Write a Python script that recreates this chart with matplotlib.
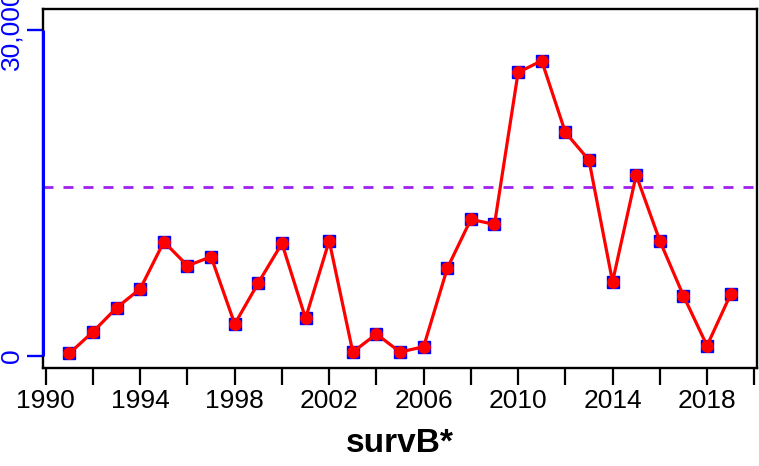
import matplotlib
matplotlib.use("Agg")
import matplotlib.pyplot as plt
import matplotlib.transforms as mtransforms
from matplotlib.ticker import FixedLocator, FuncFormatter

plt.rcParams["font.family"] = ["Liberation Sans", "DejaVu Sans"]

years = list(range(1991, 2020))
values = [220, 2210, 4420, 6170, 10500, 8290, 9120, 2920, 6720, 10350,
          3440, 10590, 340, 2000, 340, 830, 8050, 12560, 12100, 26100,
          27170, 20580, 18020, 6820, 16640, 10590, 5530, 920, 5660]
mean_line = 15570

x_ticks = list(range(1990, 2021, 2))
x_labels = [1990, 1994, 1998, 2002, 2006, 2010, 2014, 2018]
y_ticks = [0, 30000]
y_labels = ["0", "30,000"]

fig = plt.figure(figsize=(7.59, 4.66), dpi=100)
ax = fig.add_axes([0.0563, 0.2103, 0.9415, 0.7704])

ax.axhline(mean_line, color="#A020F0", lw=2, ls=(0, (3.6, 3.6)), zorder=1)
ax.plot(years, values, ls="none", marker="s", ms=8, mfc="blue", mec="blue", zorder=2)
ax.plot(years, values, color="red", lw=2.3, marker="o", ms=8.2, mfc="red", mec="red", zorder=3)

ax.set_xlim(1989.87, 2020.13)
ax.set_ylim(-1130, 31940)

for sp in ax.spines.values():
    sp.set_linewidth(1.7)
    sp.set_color("black")

# blue y axis line spanning only the labelled range
trans = mtransforms.blended_transform_factory(ax.transAxes, ax.transData)
ax.plot([0, 0], [y_ticks[0], y_ticks[-1]], color="blue", lw=2.2, transform=trans,
        clip_on=False, zorder=5, solid_capstyle="butt")

ax.xaxis.set_major_locator(FixedLocator(x_ticks))
ax.xaxis.set_major_formatter(FuncFormatter(lambda v, p: str(int(round(v))) if int(round(v)) in x_labels else ""))
ax.tick_params(axis="x", length=12, width=1.6, color="black", labelsize=19, pad=3)

ax.set_yticks(y_ticks)
ax.set_yticklabels(y_labels, rotation=90, va="center")
ax.tick_params(axis="y", length=11.5, width=1.7, color="blue", labelcolor="blue",
               labelsize=19, pad=2)

ax.set_xlabel("survB*", fontsize=24, fontweight="bold", labelpad=11)

fig.savefig("out.png", dpi=100)
